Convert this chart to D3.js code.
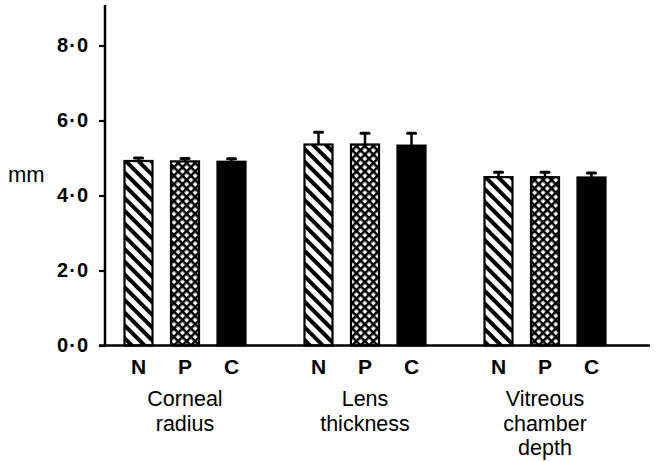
<!DOCTYPE html>
<html>
<head>
<meta charset="utf-8">
<script src="https://cdn.jsdelivr.net/npm/d3@7"></script>
<style>
  body { margin: 0; background: #fff; }
  svg { display: block; font-family: "Liberation Sans", Arial, sans-serif; }
</style>
</head>
<body>
<div id="chart"></div>
<script>
// Ocular dimensions by group
const groups = ["Corneal radius", "Lens thickness", "Vitreous chamber depth"];
const groupLines = [["Corneal", "radius"], ["Lens", "thickness"], ["Vitreous", "chamber", "depth"]];
const subgroups = ["N", "P", "C"];
const meanN = [4.92, 5.36, 4.49];
const meanP = [4.91, 5.36, 4.49];
const meanC = [4.90, 5.33, 4.48];
const sdN = [0.08, 0.33, 0.13];
const sdP = [0.08, 0.30, 0.13];
const sdC = [0.08, 0.33, 0.12];
const yTicks = [0, 2, 4, 6, 8];

const width = 658, height = 461;
const means = { N: meanN, P: meanP, C: meanC };
const sds = { N: sdN, P: sdP, C: sdC };

const data = [];
groups.forEach((g, i) => {
    subgroups.forEach(s => {
        data.push({ group: g, sub: s, value: means[s][i], sd: sds[s][i] });
    });
});

const svg = d3.select('#chart')
    .append('svg')
    .attr('width', width)
    .attr('height', height);

// Patterns for the bars
const defs = svg.append('defs');
const stripe = defs.append('pattern')
    .attr('id', 'stripe')
    .attr('patternUnits', 'userSpaceOnUse')
    .attr('width', 9)
    .attr('height', 9)
    .attr('patternTransform', 'rotate(-45)');
stripe.append('rect').attr('width', 9).attr('height', 9).attr('fill', '#fff');
stripe.append('rect').attr('x', 0).attr('y', 0).attr('width', 4).attr('height', 9).attr('fill', '#000');

const hatch = defs.append('pattern')
    .attr('id', 'hatch')
    .attr('patternUnits', 'userSpaceOnUse')
    .attr('width', 6)
    .attr('height', 6)
    .attr('patternTransform', 'rotate(45)');
hatch.append('rect').attr('width', 6).attr('height', 6).attr('fill', '#fff');
hatch.append('rect').attr('x', 0).attr('y', 0).attr('width', 2.5).attr('height', 6).attr('fill', '#000');
hatch.append('rect').attr('x', 0).attr('y', 0).attr('width', 6).attr('height', 2.5).attr('fill', '#000');

const fills = { N: 'url(#stripe)', P: 'url(#hatch)', C: '#000' };

// Scales
const x0 = d3.scaleBand().domain(groups).range([95, 635]);
const x1 = d3.scalePoint().domain(subgroups).range([-46.5, 46.5]);
const barW = 28;
const y = d3.scaleLinear().domain([0, 8]).range([345.5, 45.5]);
const cx = d => x0(d.group) + x0.bandwidth() / 2 + x1(d.sub);

// Y axis
const yAxis = svg.append('g')
    .attr('transform', 'translate(105,0)')
    .call(d3.axisLeft(y).tickValues(yTicks).tickSize(6).tickPadding(10)
        .tickFormat(d => d3.format('.1f')(d).replace('.', '\u00b7')));
yAxis.select('.domain').remove();
yAxis.selectAll('.tick line').attr('stroke', '#000').attr('stroke-width', 2.2);
yAxis.selectAll('.tick text')
    .attr('font-size', 20)
    .attr('font-weight', 'bold')
    .attr('letter-spacing', 1)
    .attr('font-family', '"Liberation Sans", Arial, sans-serif')
    .attr('fill', '#000');

svg.append('line')
    .attr('x1', 105).attr('x2', 105)
    .attr('y1', 5).attr('y2', y(0) + 1)
    .attr('stroke', '#000').attr('stroke-width', 2.5);

svg.append('text')
    .attr('x', 8).attr('y', 182)
    .attr('font-size', 22)
    .text('mm');

// Bars
svg.append('g')
    .selectAll('rect')
    .data(data)
    .join('rect')
    .attr('x', d => cx(d) - barW / 2)
    .attr('y', d => y(d.value))
    .attr('width', barW)
    .attr('height', d => y(0) - y(d.value))
    .attr('fill', d => fills[d.sub])
    .attr('stroke', '#000')
    .attr('stroke-width', 2.2);

// Error bars
const err = svg.append('g');
err.selectAll('line.stem')
    .data(data)
    .join('line')
    .attr('class', 'stem')
    .attr('x1', cx).attr('x2', cx)
    .attr('y1', d => y(d.value))
    .attr('y2', d => y(d.value + d.sd))
    .attr('stroke', '#000').attr('stroke-width', 2.5);
err.selectAll('line.cap')
    .data(data)
    .join('line')
    .attr('class', 'cap')
    .attr('x1', d => cx(d) - 4).attr('x2', d => cx(d) + 4)
    .attr('y1', d => y(d.value + d.sd))
    .attr('y2', d => y(d.value + d.sd))
    .attr('stroke', '#000').attr('stroke-width', 3)
    .attr('stroke-linecap', 'round');

// X axis line
svg.append('line')
    .attr('x1', 99).attr('x2', 650)
    .attr('y1', y(0)).attr('y2', y(0))
    .attr('stroke', '#000').attr('stroke-width', 2.5);

// Subgroup labels
svg.append('g')
    .selectAll('text')
    .data(data)
    .join('text')
    .attr('x', cx)
    .attr('y', 374)
    .attr('text-anchor', 'middle')
    .attr('font-size', 21)
    .attr('font-weight', 'bold')
    .text(d => d.sub);

// Group labels
groups.forEach((g, i) => {
    svg.append('text')
        .attr('x', x0(g) + x0.bandwidth() / 2)
        .attr('y', 406)
        .attr('text-anchor', 'middle')
        .attr('font-size', 21.5)
        .selectAll('tspan')
        .data(groupLines[i])
        .join('tspan')
        .attr('x', x0(g) + x0.bandwidth() / 2)
        .attr('dy', (d, j) => j === 0 ? 0 : 24.5)
        .text(d => d);
});
</script>
</body>
</html>
